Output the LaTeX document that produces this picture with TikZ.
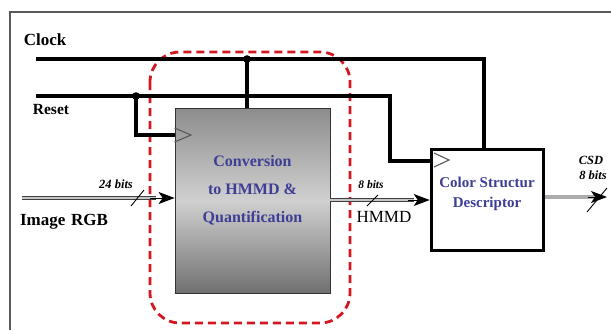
\documentclass[tikz,border=0pt]{standalone}
\usepackage{fontspec}
\setmainfont{Liberation Serif}
\usetikzlibrary{arrows.meta,calc}
\definecolor{txtblue}{RGB}{62,62,150}
\definecolor{dashred}{RGB}{212,22,32}
\definecolor{framegray}{RGB}{90,90,90}
\begin{document}
\begin{tikzpicture}[x=1pt,y=-1pt,
  wire/.style={line width=3.4pt,black},
  bigtxt/.style={font=\fontsize{17}{19}\selectfont\bfseries},
  bitstxt/.style={font=\fontsize{12.5}{13}\selectfont\bfseries\itshape},
  inner/.style={font=\fontsize{16}{28}\selectfont\bfseries,text=txtblue,align=center},
  tip/.style={-{Stealth[length=16pt,width=12pt,inset=4pt]}},
  dbl/.style={line width=1pt,draw=black!75,double=gray!45,double distance=1.8pt},
  tick/.style={line width=0.9pt,black},
  clk/.style={line width=1.1pt,draw=gray!70!black}]
\useasboundingbox (0,0) rectangle (611,330);
\draw[framegray,line width=1.3pt] (611,12) -- (10,12) -- (10,330);

% red dashed region
\draw[dashred,line width=2.8pt,dash pattern=on 8pt off 5pt,rounded corners=30pt]
  (150,52) rectangle (350,323);

% blocks
\node[draw=black!80,line width=0.8pt,minimum width=155pt,minimum height=185pt,
  top color={rgb,255:red,140;green,140;blue,140},
  bottom color={rgb,255:red,112;green,112;blue,112},
  middle color={rgb,255:red,208;green,208;blue,208},inner sep=0pt] (conv) at (252.5,200.5) {};
\node[draw=black,line width=3.6pt,fill=white,minimum width=112pt,minimum height=101pt,inner sep=0pt]
  (csd) at (487.5,200) {};

% texts in blocks
\node[inner] (convtxt) at (252.5,190) {Conversion\\to HMMD \&\\Quantification};
\node[inner,font=\fontsize{15}{20}\selectfont\bfseries] (csdtxt) at (487,194) {Color Structur\\Descriptor};

% clock triangles
\draw[clk] (conv.north west |- 0,128) -- (191,135) -- (conv.north west |- 0,142);
\draw[clk] (434,153) -- (449,160) -- (434,167);

% clock wiring
\coordinate (clkL) at (36,59);
\coordinate (clkJ) at (247,59);
\coordinate (clkR) at (484,59);
\draw[wire] (clkL) -- (clkR) -- (clkR |- csd.north);
\draw[wire] (clkJ) -- (clkJ |- conv.north);
\fill (clkJ) circle (3.8pt);

% reset wiring
\coordinate (rstL) at (36,96);
\coordinate (rstJ) at (136,96);
\coordinate (rstR) at (390,96);
\coordinate (rstD) at (390,161);
\coordinate (rstC) at (136,135);
\draw[wire] (rstL) -- (rstR) -- (rstD) -- (rstD -| csd.west);
\draw[wire] (rstJ) -- (rstC) -- (rstC -| conv.west);
\fill (rstJ) circle (3.8pt);

% labels
\node[bigtxt] (lclock) at (45,40) {Clock};
\node[bigtxt,font=\fontsize{15.5}{17}\selectfont\bfseries] (lreset) at (51,109) {Reset};
\node[bigtxt] (lrgb) at (64,222) {Image\,\,RGB};

% image RGB input
\coordinate (rgbL) at (22,198);
\coordinate (rgbA) at (156,198);
\draw[dbl] (rgbL) -- (rgbA);
\draw[tip,line width=1pt] (150,198) -- (rgbA -| conv.west);
\draw[tick] (131,206) -- (144,190);
\node[bitstxt] (l24) at (116,184) {24 bits};

% HMMD
\coordinate (hmA) at (330,200);
\coordinate (hmB) at (414,200);
\draw[dbl] (hmA) -- (hmB);
\draw[tip,line width=1pt] (408,200) -- (hmA -| csd.west);
\draw[tick] (367,206) -- (378,195);
\node[bitstxt,font=\fontsize{11.5}{12}\selectfont\bfseries\itshape] (l8) at (371,185) {8 bits};
\node[font=\fontsize{17}{19}\selectfont] (lhmmd) at (384,217) {HMMD};

% CSD output
\coordinate (csdOut) at (607,197);
\draw[line width=3.8pt,gray!65] (csd.east |- csdOut) -- (594,197);
\draw[tip,line width=1pt] (588,197) -- (csdOut);
\draw[tick] (587,212) -- (607,188);
\node[bitstxt] (lcsd) at (591,160) {CSD};
\node[bitstxt] (l8b) at (593,175) {8 bits};
\end{tikzpicture}
\end{document}
